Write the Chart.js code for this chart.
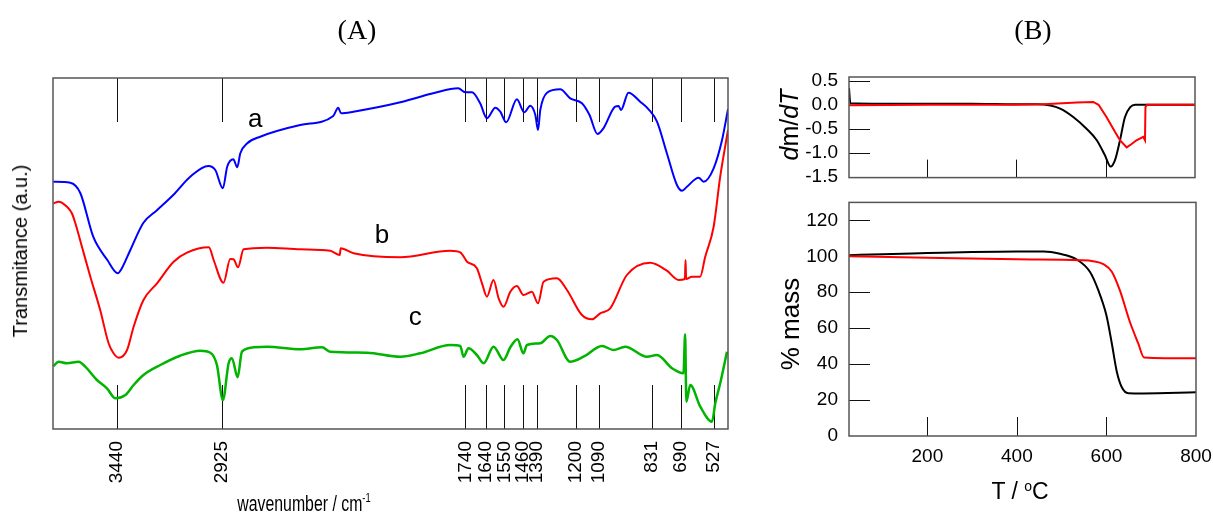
<!DOCTYPE html>
<html>
<head>
<meta charset="utf-8">
<script src="https://cdn.jsdelivr.net/npm/chart.js@4.4.0/dist/chart.umd.min.js"></script>
<style>
  body { margin: 0; background: #fff; }
  #wrap { position: relative; width: 1213px; height: 518px; background: #fff; overflow: hidden; }
  canvas { position: absolute; }
  .lbl { position: absolute; white-space: nowrap; line-height: 1; color: #000;
         font-family: "Liberation Sans", Arial, sans-serif; transform: translate(-50%, -50%); }
  .rot { transform: translate(-50%, -50%) rotate(-90deg); }
  .serif { font-family: "Liberation Serif", "Times New Roman", serif; }
</style>
</head>
<body>
<div id="wrap">
  <canvas id="ftir" width="760" height="518" style="left:0;top:0"></canvas>
  <canvas id="dtg" width="453" height="200" style="left:760px;top:0"></canvas>
  <canvas id="tga" width="461" height="338" style="left:760px;top:180px"></canvas>

  <div class="lbl serif" style="left:357px;top:30px;font-size:28px">(A)</div>
  <div class="lbl serif" style="left:1033px;top:30px;font-size:28px">(B)</div>
  <div class="lbl rot" style="left:20px;top:251px;font-size:20px">Transmitance (a.u.)</div>
  <div class="lbl" style="left:304px;top:503px;font-size:22px;transform:translate(-50%,-50%) scaleX(0.72)">wavenumber / cm<sup style="font-size:13px">-1</sup></div>
  <div class="lbl rot" style="left:789px;top:125px;font-size:25px"><i>d</i>m/<i>dT</i></div>
  <div class="lbl rot" style="left:790px;top:324px;font-size:26px">% mass</div>
  <div class="lbl" style="left:1020px;top:491px;font-size:23px">T / <sup style="font-size:14px">o</sup>C</div>
</div>

<script>
// (A) FTIR spectra, wavenumber in cm-1, transmittance in a.u.
const wnTicks = [3440, 2925, 1740, 1640, 1550, 1460, 1390, 1200, 1090, 831, 690, 527];

const wnA = [3749,3666,3617,3554,3485,3434,3419,3373,3310,3242,3164,3081,2993,2959,2922,2901,2871,2852,2837,2803,2740,2545,2384,2360,2346,2286,2057,1960,1897,1775,1741,1708,1668,1635,1594,1570,1541,1489,1453,1424,1399,1386,1375,1342,1278,1229,1172,1135,1096,1067,1010,993,982,945,888,847,806,758,709,684,660,603,579,530,489,460];
const trA = [247.3,246.3,236,192.3,169,155.7,159,179,206,219,234,252.3,263,259,240.7,262.3,269.7,261.7,275.7,285.7,292.3,304,313,321.3,315.7,317.3,326.7,332.3,335.7,340.7,336.7,336.7,325.7,310.7,321.3,317.3,306.7,329.7,316.7,323.3,314,299,319,336.3,339.7,330.7,325.7,314,295,300.7,322.3,323,319,336.3,327.3,319.7,307.3,275.7,244,238.3,242.3,251.3,247.3,260.7,289,319.7];

const wnB = [3747,3723,3682,3658,3641,3609,3568,3520,3479,3455,3430,3389,3357,3309,3243,3162,3097,2990,2967,2919,2886,2870,2848,2821,2707,2545,2399,2352,2348,2285,2057,1814,1765,1732,1684,1659,1635,1603,1578,1554,1521,1489,1457,1416,1386,1359,1294,1245,1172,1123,1083,1034,953,839,758,701,670,667,664,636,596,571,530,498,460];
const trB = [225.7,227.3,222.3,215.7,205.7,182.3,152.3,119,85.7,75.7,71.3,79,102.3,129,145.7,167.3,176.3,181.7,169,146.3,170,169.7,161.7,179.7,181.3,179.7,178.3,174,180.7,175.7,171.7,178.3,176.7,167.3,160.7,145.7,132.3,149,130.7,122.3,137.3,143,134,137.3,125.7,147.3,150.7,139,114,109.7,115.7,120.7,154,166.3,158.3,149,150,169,150,152.3,152.3,172.3,202.3,252.3,299];

const wnC = [3747,3723,3682,3625,3593,3536,3487,3446,3397,3357,3309,3227,3130,3032,2983,2951,2922,2894,2878,2850,2829,2772,2707,2545,2439,2399,2220,2057,1960,1814,1765,1749,1725,1684,1651,1603,1554,1521,1486,1457,1440,1375,1326,1294,1229,1164,1074,1018,961,855,806,733,677,669,663,644,595,538,522,498,465];
const trC = [63,67.3,65.7,67.3,62.3,49,40.7,30.7,34,44,54,64,73.3,78.3,76.3,64,29,65.7,70.7,51.7,77.3,81.7,82.3,79.7,81.7,77.3,76.3,72.3,75.7,84,83,72.3,80.7,74,65.7,82.3,69,81.7,89.7,75.7,84,85.7,93,89,67.3,72.3,83,79,82.3,72.3,74,60.7,55.7,94.7,27.3,44,22.3,7.3,25.7,45.7,77.3];

// curve names written next to the spectra
const curveNames = ['a', 'b', 'c'];
const nameWn = [2764, 2147, 1984];
const nameTr = [302, 186, 104];

// (B) top: dm/dT
const dtgTicks = [0.5, 0.0, -0.5, -1.0, -1.5];
const dtgT1 = [25,28,100,200,300,400,446,476,498,528,557,580,598,611,621,632,643,655,666,800];
const dtgV1 = [0.35,0.03,0.02,0.02,0.02,0.01,0.01,-0.015,-0.08,-0.26,-0.5,-0.74,-1.05,-1.29,-1.15,-0.74,-0.26,-0.05,0.0,0.0];
const dtgT2 = [25,200,400,461,535,572,584,602,621,632,647,658,669,684,688,689,692,800];
const dtgV2 = [-0.01,0,0,0.01,0.05,0.06,0,-0.26,-0.57,-0.74,-0.89,-0.82,-0.74,-0.67,-0.74,-0.05,0,0];

// (B) bottom: % mass
const tTicks = [200, 400, 600, 800];
const massTicks = [0, 20, 40, 60, 80, 100, 120];
const massT1 = [25,100,200,300,400,460,496,533,563,582,600,612,623,634,649,682,800];
const massV1 = [100.6,101.2,101.8,102.4,102.7,102.7,101.4,98.3,91.4,81,67.1,51.5,35.9,27.3,23.8,23.7,24.3];
const massT2 = [25,200,400,541,570,593,612,630,652,671,684,800];
const massV2 = [100,99.2,98.3,97.8,97.3,95.7,91.4,81,63.7,51.5,43.7,43.2];

Chart.defaults.font.family = '"Liberation Sans", Arial, sans-serif';
Chart.defaults.color = '#000';

function pts(xs, ys) {
    return xs.map((x, i) => ({ x: x, y: ys[i] }));
}

function fixedTicks(list) {
    return axis => { axis.ticks = list.map(v => ({ value: v })); };
}

// box around the plot area plus inward tick marks
const framePlugin = {
    id: 'frame',
    beforeDatasetsDraw(chart, args, opts) {
        const { ctx, chartArea: a, scales } = chart;
        ctx.save();
        ctx.strokeStyle = '#111';
        ctx.lineWidth = 1;
        ctx.beginPath();
        (opts.xTicks || []).forEach(v => {
            const px = Math.round(scales.x.getPixelForValue(v)) + 0.5;
            ctx.moveTo(px, a.bottom);
            ctx.lineTo(px, a.bottom - opts.xLen);
            if (opts.xTop) {
                ctx.moveTo(px, a.top);
                ctx.lineTo(px, a.top + opts.xLen);
            }
        });
        (opts.yTicks || []).forEach(v => {
            const py = Math.round(scales.y.getPixelForValue(v)) + 0.5;
            ctx.moveTo(a.left, py);
            ctx.lineTo(a.left + opts.yLen, py);
        });
        ctx.stroke();
        ctx.restore();
    },
    afterDatasetsDraw(chart, args, opts) {
        const { ctx, chartArea: a, scales } = chart;
        ctx.save();
        ctx.strokeStyle = '#555';
        ctx.lineWidth = 1.5;
        ctx.strokeRect(a.left, a.top, a.right - a.left, a.bottom - a.top);
        if (opts.names) {
            ctx.fillStyle = '#000';
            ctx.font = '26px "Liberation Sans", Arial, sans-serif';
            ctx.textAlign = 'center';
            ctx.textBaseline = 'alphabetic';
            opts.names.forEach((t, i) => {
                ctx.fillText(t, scales.x.getPixelForValue(opts.nameX[i]), scales.y.getPixelForValue(opts.nameY[i]));
            });
        }
        ctx.restore();
    }
};

const common = {
    responsive: false,
    animation: false,
    events: [],
    elements: { point: { radius: 0 }, line: { tension: 0 } }
};

// (A) FTIR
new Chart(document.getElementById('ftir'), {
    type: 'line',
    data: {
        datasets: [
            { data: pts(wnA, trA), borderColor: '#0000ff', borderWidth: 2, cubicInterpolationMode: 'monotone' },
            { data: pts(wnB, trB), borderColor: '#ff0000', borderWidth: 2, cubicInterpolationMode: 'monotone' },
            { data: pts(wnC, trC), borderColor: '#00b400', borderWidth: 2.5, cubicInterpolationMode: 'monotone' }
        ]
    },
    options: {
        ...common,
        layout: { padding: { left: 53, top: 78, right: 32, bottom: 0 } },
        plugins: {
            legend: { display: false },
            tooltip: { enabled: false },
            frame: { xTicks: wnTicks, xLen: 44, xTop: true, names: curveNames, nameX: nameWn, nameY: nameTr }
        },
        scales: {
            x: {
                type: 'linear', reverse: true, min: 460, max: 3750,
                afterBuildTicks: fixedTicks(wnTicks),
                afterFit: axis => { axis.height = 89; },
                grid: { display: false, drawTicks: false },
                border: { display: false },
                ticks: { autoSkip: false, minRotation: 90, maxRotation: 90, padding: 12,
                         font: { size: 19 }, callback: v => String(v) }
            },
            y: { display: false, min: 0, max: 351 }
        }
    },
    plugins: [framePlugin]
});

// (B) top: dm/dT
new Chart(document.getElementById('dtg'), {
    type: 'line',
    data: {
        datasets: [
            { data: pts(dtgT2, dtgV2), borderColor: '#ff0000', borderWidth: 2 },
            { data: pts(dtgT1, dtgV1), borderColor: '#000000', borderWidth: 2, cubicInterpolationMode: 'monotone' }
        ]
    },
    options: {
        ...common,
        layout: { padding: { left: 0, top: 77, right: 18, bottom: 22 } },
        plugins: {
            legend: { display: false },
            tooltip: { enabled: false },
            frame: { xTicks: [200, 400, 600], xLen: 18, yTicks: dtgTicks, yLen: 21 }
        },
        scales: {
            x: { type: 'linear', display: false, min: 25, max: 800 },
            y: {
                min: -1.52, max: 0.58,
                afterBuildTicks: fixedTicks(dtgTicks),
                afterFit: axis => { axis.width = 89; },
                grid: { display: false, drawTicks: false },
                border: { display: false },
                ticks: { autoSkip: false, padding: 11, font: { size: 19 }, callback: v => v.toFixed(1) }
            }
        }
    },
    plugins: [framePlugin]
});

// (B) bottom: % mass
new Chart(document.getElementById('tga'), {
    type: 'line',
    data: {
        datasets: [
            { data: pts(massT2, massV2), borderColor: '#ff0000', borderWidth: 2, cubicInterpolationMode: 'monotone' },
            { data: pts(massT1, massV1), borderColor: '#000000', borderWidth: 2, cubicInterpolationMode: 'monotone' }
        ]
    },
    options: {
        ...common,
        layout: { padding: { left: 0, top: 6, right: 25, bottom: 0 } },
        plugins: {
            legend: { display: false },
            tooltip: { enabled: false },
            frame: { xTicks: [200, 400, 600], xLen: 19, yTicks: massTicks.slice(1), yLen: 21 }
        },
        scales: {
            x: {
                type: 'linear', min: 25, max: 800,
                afterBuildTicks: fixedTicks(tTicks),
                afterFit: axis => { axis.height = 82; },
                grid: { display: false, drawTicks: false },
                border: { display: false },
                ticks: { autoSkip: false, padding: 9, font: { size: 19 }, callback: v => String(v) }
            },
            y: {
                min: 0, max: 130,
                afterBuildTicks: fixedTicks(massTicks),
                afterFit: axis => { axis.width = 89; },
                grid: { display: false, drawTicks: false },
                border: { display: false },
                ticks: { autoSkip: false, padding: 11, font: { size: 19 }, callback: v => String(v) }
            }
        }
    },
    plugins: [framePlugin]
});
</script>
</body>
</html>
